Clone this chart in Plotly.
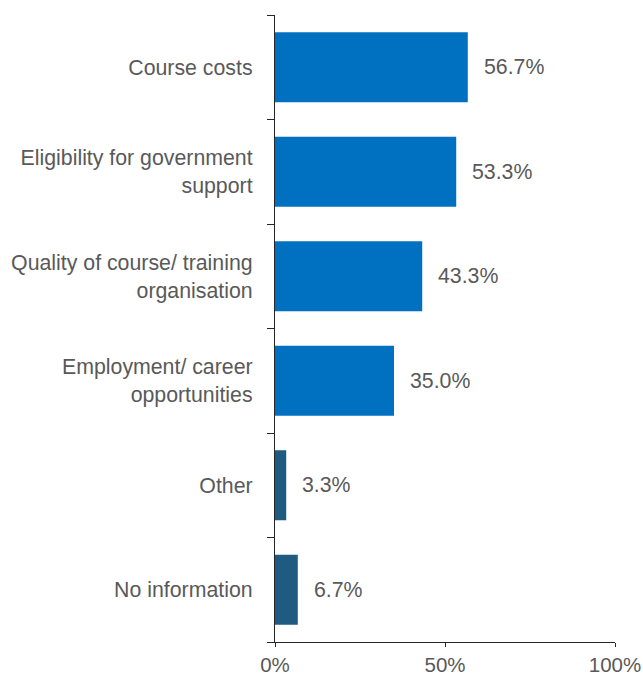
import plotly.graph_objects as go

categories = ["Course costs", "Eligibility for government<br>support",
              "Quality of course/ training<br>organisation",
              "Employment/ career<br>opportunities", "Other", "No information"]
values = [56.7, 53.3, 43.3, 35.0, 3.3, 6.7]
colors = ["#0070C0", "#0070C0", "#0070C0", "#0070C0", "#1F5A80", "#1F5A80"]
x_ticks = [0, 50, 100]
x_tick_labels = ["0%", "50%", "100%"]

font_family = "Liberation Sans, Arial, sans-serif"
text_color = "#595959"
fs = 21.3

fig = go.Figure()
fig.add_trace(go.Bar(
    y=categories, x=values, orientation="h",
    marker=dict(color=colors, line=dict(width=0)),
    width=0.67, hoverinfo="skip",
))
for c, v in zip(categories, values):
    fig.add_annotation(x=v, y=c, text=f"{v:.1f}%", showarrow=False,
                       xanchor="left", yanchor="middle", xshift=14,
                       font=dict(family=font_family, size=fs, color=text_color))

fig.update_layout(
    width=643, height=677,
    margin=dict(l=275, r=28, t=15, b=35),
    plot_bgcolor="white", paper_bgcolor="white",
    showlegend=False,
    font=dict(family=font_family, size=fs, color=text_color),
    xaxis=dict(range=[0, 100], tickvals=x_ticks, ticktext=x_tick_labels,
               automargin=False,
               showgrid=False, zeroline=False, showline=True,
               linecolor="#262626", linewidth=1.3, ticks="outside",
               ticklen=4, tickcolor="#262626", tickfont=dict(size=20.5, color=text_color)),
    yaxis=dict(categoryorder="array", categoryarray=categories[::-1],
               automargin=False,
               showgrid=False, zeroline=False, showline=True,
               linecolor="#262626", linewidth=1.3, ticks="outside",
               tickson="boundaries", ticklen=7, tickcolor="#262626",
               ticklabelstandoff=17,
               tickfont=dict(size=fs, color=text_color)),
)
fig.write_html("out.html", config={"displayModeBar": False},
               post_script="document.body.style.margin='0';document.body.style.overflow='hidden';")
